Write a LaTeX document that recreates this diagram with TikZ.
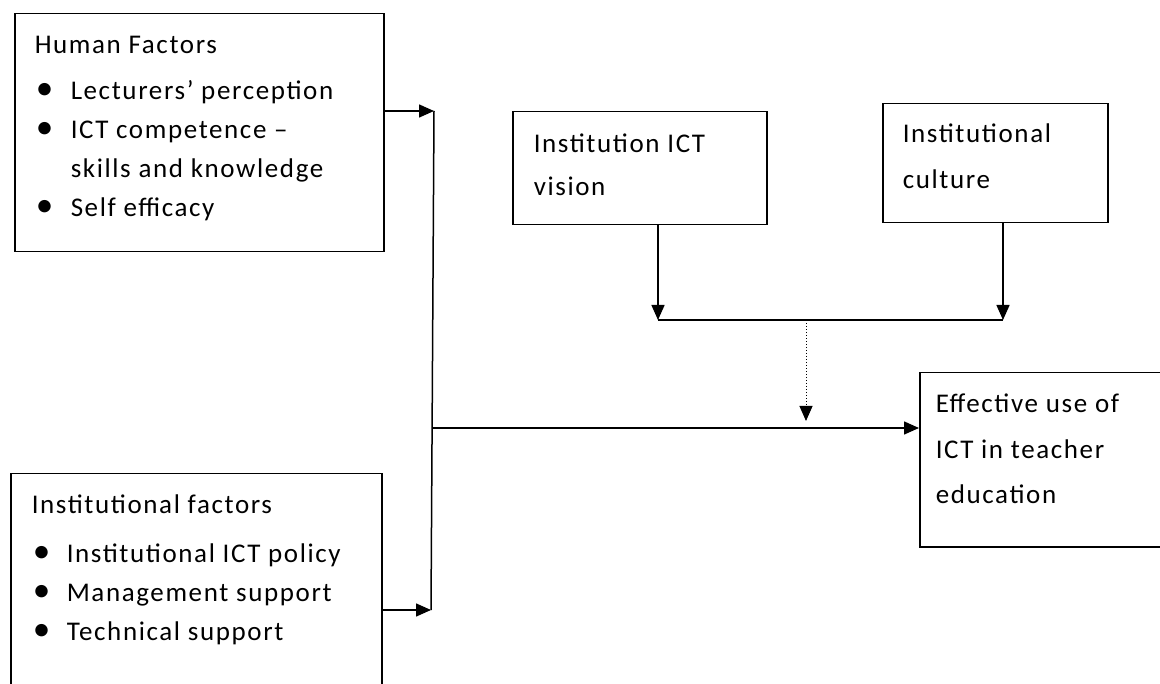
\documentclass[tikz,border=0pt]{standalone}
\usepackage{fontspec}
\setmainfont{Carlito}[LetterSpace=6]
\usetikzlibrary{arrows.meta,calc}
\newcommand{\tstrut}{\rule{0pt}{20pt}}
\newcommand{\bitem}[1][36pt]{\makebox[#1][l]{\hspace*{1pt}\scalebox{1.3}{\textbullet}}}
\begin{document}
\begin{tikzpicture}[x=1pt, y=-1pt, line width=1.5pt, >={Triangle[length=15pt,width=13pt]},
box node/.style={draw, rectangle, anchor=north west, inner sep=0pt, line width=1.5pt},
text node/.style={anchor=north west, inner sep=0pt, align=left, font=\fontsize{27}{#1}\selectfont},
text node/.default=39,
dots line/.style={line width=1pt, dash pattern=on 1.5pt off 1.5pt}]
\useasboundingbox (0,0) rectangle (1160,684);
\clip (0,0) rectangle (1160,684);
% boxes
\node[box node, minimum width=369pt, minimum height=238pt] (human) at (14,13) {};
\node[box node, minimum width=371pt, minimum height=240pt] (inst) at (10,473) {};
\node[box node, minimum width=254pt, minimum height=113pt] (vision) at (512,111) {};
\node[box node, minimum width=225pt, minimum height=119pt] (culture) at (882,103) {};
\node[box node, minimum width=260pt, minimum height=174pt] (effect) at (919,372) {};
% texts
\node[text node] (humantxt) at (34,33) {\tstrut Human Factors\\[7pt]
  \bitem Lecturers’ perception\\
  \bitem ICT competence –\\
  \hspace*{36pt}skills and knowledge\\
  \bitem Self efficacy};
\node[text node] (insttxt) at (31,493) {\tstrut Institutional factors\\[10pt]
  \bitem[35pt]Institutional ICT policy\\
  \bitem[35pt]Management support\\
  \bitem[35pt]Technical support};
\node[text node=43] (visiontxt) at (533,132) {\tstrut Institution ICT\\ vision};
\node[text node=46] (culturetxt) at (902,122) {\tstrut Institutional\\ culture};
\node[text node=45.5] (effecttxt) at (935,392) {\tstrut Effective use of\\ ICT in teacher\\ education};
% junctions
\coordinate (jtop) at (434,111);
\coordinate (jmid) at (432,428);
\coordinate (jbot) at (431,610);
\coordinate (mleft) at (658,320);
\coordinate (mright) at (1003,320);
\coordinate (mdot) at (806,320);
\coordinate (mtip) at (806,421);
% connectors
\draw[->] (human.east |- jtop) -- (jtop);
\draw (jtop) -- (jbot);
\draw[->] (inst.east |- jbot) -- (jbot);
\draw[->] (jmid) -- (effect.west |- jmid);
\draw[->] (vision.south -| mleft) -- (mleft);
\draw[->] (culture.south -| mright) -- (mright);
\draw (mleft) -- (mright);
\draw[->, dots line] (mdot) -- (mtip);
\end{tikzpicture}
\end{document}
